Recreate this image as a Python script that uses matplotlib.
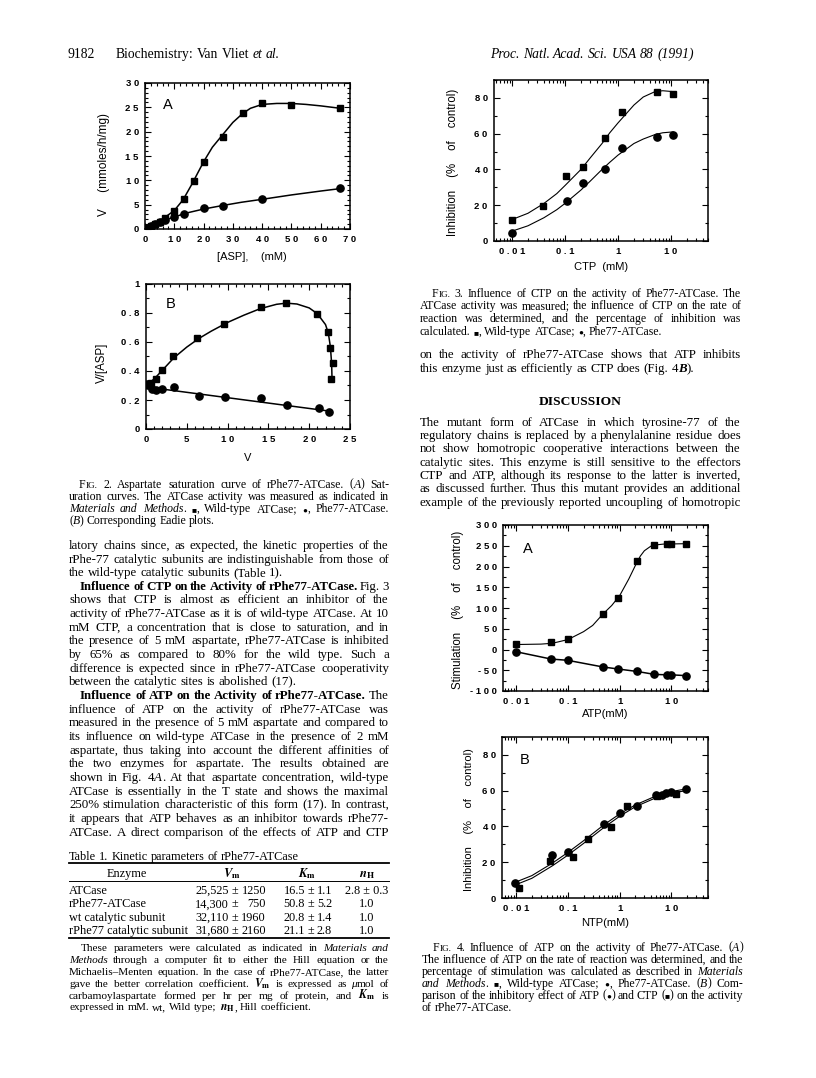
import re
import matplotlib
matplotlib.use("Agg")
import matplotlib.pyplot as plt
from matplotlib.ticker import MultipleLocator, LogLocator, FuncFormatter, NullFormatter

plt.rcParams["font.family"] = ["Liberation Sans", "DejaVu Sans"]
plt.rcParams["font.weight"] = "bold"
plt.rcParams["mathtext.fontset"] = "stix"

SERIF = ["Liberation Serif", "DejaVu Serif"]
W, H = 816, 1078

# ---------------- data ----------------
# Fig. 2A  saturation curves
asp_wt = [1, 2, 3.3, 5, 6.7, 10, 13.3, 16.7, 20, 26.7, 33.3, 40, 50, 66.7]
v_wt = [0.3, 0.7, 1.1, 1.5, 2.3, 3.6, 6.1, 9.9, 13.8, 18.9, 23.8, 25.8, 25.4, 24.8]
asp_mut = [1, 2, 3.3, 5, 6.7, 10, 13.3, 20, 26.7, 40, 66.7]
v_mut = [0.3, 0.6, 1.0, 1.4, 1.9, 2.4, 3.1, 4.3, 4.7, 6.1, 8.4]
fit2a_wt_x = [0, 5, 10, 13, 16, 20, 23, 26.7, 30, 33.3, 36, 40, 45, 50, 55, 60, 66.7]
fit2a_wt_y = [0, 1.6, 3.8, 6.0, 9.2, 13.8, 16.8, 19.5, 21.9, 23.7, 24.8, 25.6, 25.8, 25.8, 25.6, 25.3, 24.8]
fit2a_mut_x = [0, 2, 5, 10, 15, 20, 26.7, 33, 40, 50, 60, 66.7]
fit2a_mut_y = [0, 0.7, 1.4, 2.5, 3.4, 4.1, 4.85, 5.5, 6.1, 7.0, 7.8, 8.3]

# Fig. 2B  Eadie plots
ev_wt = [0.15, 0.6, 1.2, 1.9, 3.35, 6.3, 9.6, 14.1, 17.2, 21.0, 22.3, 22.5, 22.95, 22.7]
er_wt = [0.30, 0.32, 0.343, 0.407, 0.503, 0.63, 0.722, 0.843, 0.867, 0.79, 0.667, 0.559, 0.457, 0.343]
ev_mut = [0.1, 0.3, 0.7, 1.2, 2.0, 3.4, 6.5, 9.7, 14.1, 17.3, 21.2, 22.4]
er_mut = [0.31, 0.30, 0.274, 0.269, 0.274, 0.292, 0.228, 0.219, 0.212, 0.166, 0.147, 0.119]
fit2b_wt_x = [0, 1, 2, 3.4, 5, 6.5, 8, 10, 12, 14, 16, 17.2, 18.5, 20, 21, 22, 22.35, 22.6, 22.75, 22.8]
fit2b_wt_y = [0.30, 0.345, 0.405, 0.49, 0.565, 0.625, 0.675, 0.735, 0.785, 0.83, 0.86, 0.868,
              0.862, 0.835, 0.795, 0.72, 0.66, 0.565, 0.45, 0.34]
fit2b_mut_x = [0, 22.4]
fit2b_mut_y = [0.29, 0.124]

# Fig. 3  CTP inhibition
ctp_wt = [0.01, 0.039, 0.106, 0.22, 0.58, 1.18, 5.4, 10.7]
inh_wt = [12, 19.7, 36.4, 41.6, 57.3, 72.2, 83.3, 82.4]
ctp_mut = [0.01, 0.108, 0.22, 0.58, 1.18, 5.5, 11]
inh_mut = [4.5, 22.4, 32.7, 40.1, 51.8, 58.3, 59.2]
fit3_x = [0.01, 0.02, 0.04, 0.07, 0.1, 0.2, 0.3, 0.5, 0.7, 1, 2, 3, 5, 7, 11]
fit3_wt = [12, 15.5, 21, 26.5, 31, 40, 46.5, 54.5, 60.5, 66, 76, 80.5, 83.5, 84, 83.5]
fit3_mut = [5.5, 8.5, 13, 17.5, 21, 28.5, 33.5, 40, 44, 48, 54.5, 57, 59.5, 60.5, 61]

# Fig. 4A  ATP stimulation
atp = [0.01, 0.047, 0.098, 0.47, 0.93, 2.2, 4.7, 8.2, 9.8, 19.5]
stim_wt = [12.8, 16.9, 24.8, 85, 125, 214, 251, 254, 254, 254]
stim_mut = [-5.5, -23, -26, -42, -47, -53, -60, -61, -61, -63]
fit4a_x = [0.01, 0.03, 0.05, 0.1, 0.2, 0.3, 0.47, 0.7, 1, 1.5, 2, 2.5, 3, 4, 5, 7, 19.5]
fit4a_y = [12, 13, 15, 24, 43, 58, 85, 106, 130, 170, 202, 225, 238, 249, 252, 254, 255]

# Fig. 4B  ATP vs CTP inhibition of rPhe77
ntp_atp = [0.0095, 0.05, 0.098, 0.5, 1.0, 2.2, 5.0, 6.5, 8.0, 10, 19.5]
inh_atp = [8.2, 23.9, 25.7, 41.5, 47.6, 51.5, 57.5, 57.8, 58.5, 59.5, 61]
ntp_ctp = [0.0115, 0.045, 0.124, 0.245, 0.69, 1.37, 5.2, 12.5]
inh_ctp = [5.4, 20.6, 23, 32.8, 39.6, 51.3, 57, 58]
fit4b_x = [0.009, 0.02, 0.05, 0.1, 0.2, 0.5, 1, 2, 5, 10, 19.5]
fit4b_atp = [8.5, 12.5, 19.5, 25.5, 32, 41, 47, 52, 57, 59.5, 61]
fit4b_ctp = [7, 11, 18, 24, 30.5, 39.5, 45.7, 51, 56, 58.7, 60]

# Table 1
tab_enzyme = ["ATCase", "rPhe77-ATCase", "wt catalytic subunit", "rPhe77 catalytic subunit"]
tab_vm = [("25,525", "1250"), ("14,300", "750"), ("32,110", "1960"), ("31,680", "2160")]
tab_km = [("16.5", "1.1"), ("50.8", "5.2"), ("20.8", "1.4"), ("21.1", "2.8")]
tab_nh = ["2.8 ± 0.3", "1.0", "1.0", "1.0"]

# ---------------- text ----------------
cap2 = [
    "F<sc>ig.</sc> 2.  Aspartate saturation curve of rPhe77-ATCase. (<i>A</i>) Sat-",
    "uration curves. The ATCase activity was measured as indicated in",
    "<i>Materials and Methods</i>. <s>■</s>, Wild-type ATCase; <s>●</s>, Phe77-ATCase.",
    "(<i>B</i>) Corresponding Eadie plots.",
]
body_left = [
    "latory chains since, as expected, the kinetic properties of the",
    "rPhe-77 catalytic subunits are indistinguishable from those of",
    "the wild-type catalytic subunits (Table 1).",
    "<b>Influence of CTP on the Activity of rPhe77-ATCase.</b> Fig. 3",
    "shows that CTP is almost as efficient an inhibitor of the",
    "activity of rPhe77-ATCase as it is of wild-type ATCase. At 10",
    "mM CTP, a concentration that is close to saturation, and in",
    "the presence of 5 mM aspartate, rPhe77-ATCase is inhibited",
    "by 65% as compared to 80% for the wild type. Such a",
    "difference is expected since in rPhe77-ATCase cooperativity",
    "between the catalytic sites is abolished (17).",
    "<b>Influence of ATP on the Activity of rPhe77-ATCase.</b> The",
    "influence of ATP on the activity of rPhe77-ATCase was",
    "measured in the presence of 5 mM aspartate and compared to",
    "its influence on wild-type ATCase in the presence of 2 mM",
    "aspartate, thus taking into account the different affinities of",
    "the two enzymes for aspartate. The results obtained are",
    "shown in Fig. 4<i>A</i>. At that aspartate concentration, wild-type",
    "ATCase is essentially in the T state and shows the maximal",
    "250% stimulation characteristic of this form (17). In contrast,",
    "it appears that ATP behaves as an inhibitor towards rPhe77-",
    "ATCase. A direct comparison of the effects of ATP and CTP",
]
foot = [
    "These parameters were calculated as indicated in <i>Materials and</i>",
    "<i>Methods</i> through a computer fit to either the Hill equation or the",
    "Michaelis–Menten equation. In the case of rPhe77-ATCase, the latter",
    r"gave the better correlation coefficient. <m>$V_\mathrm{m}$</m> is expressed as <i>μ</i>mol of",
    r"carbamoylaspartate formed per hr per mg of protein, and <m>$K_\mathrm{m}$</m> is",
    r"expressed in mM. wt, Wild type; <m>$n_\mathrm{H}$</m>, Hill coefficient.",
]
cap3 = [
    "F<sc>ig.</sc> 3.  Influence of CTP on the activity of Phe77-ATCase. The",
    "ATCase activity was measured; the influence of CTP on the rate of",
    "reaction was determined, and the percentage of inhibition was",
    "calculated. <s>■</s>, Wild-type ATCase; <s>●</s>, Phe77-ATCase.",
]
body_right = [
    "on the activity of rPhe77-ATCase shows that ATP inhibits",
    "this enzyme just as efficiently as CTP does (Fig. 4<bi>B</bi>).",
]
discussion = [
    "The mutant form of ATCase in which tyrosine-77 of the",
    "regulatory chains is replaced by a phenylalanine residue does",
    "not show homotropic cooperative interactions between the",
    "catalytic sites. This enzyme is still sensitive to the effectors",
    "CTP and ATP, although its response to the latter is inverted,",
    "as discussed further. Thus this mutant provides an additional",
    "example of the previously reported uncoupling of homotropic",
]
cap4 = [
    "F<sc>ig.</sc> 4.  Influence of ATP on the activity of Phe77-ATCase. (<i>A</i>)",
    "The influence of ATP on the rate of reaction was determined, and the",
    "percentage of stimulation was calculated as described in <i>Materials</i>",
    "<i>and Methods</i>. <s>■</s>, Wild-type ATCase; <s>●</s>, Phe77-ATCase. (<i>B</i>) Com-",
    "parison of the inhibitory effect of ATP (<s>●</s>) and CTP (<s>■</s>) on the activity",
    "of rPhe77-ATCase.",
]

fig = plt.figure(figsize=(W / 100, H / 100), dpi=100)
bg = fig.add_axes([0, 0, 1, 1])
bg.set_xlim(0, W)
bg.set_ylim(H, 0)
bg.axis("off")
renderer = fig.canvas.get_renderer()

STY = {"r": ("normal", "normal", 1.0), "i": ("italic", "normal", 1.0),
       "b": ("normal", "bold", 1.0), "bi": ("italic", "bold", 1.0),
       "sc": ("normal", "normal", 0.78), "s": ("normal", "normal", 0.7),
       "m": ("normal", "normal", 1.05)}


def parse(line):
    words = [[]]
    style = "r"
    for tok in re.split(r"(</?[a-z]+>)", line):
        if not tok:
            continue
        if tok.startswith("</"):
            style = "r"
            continue
        if tok.startswith("<"):
            style = tok[1:-1]
            continue
        for k, part in enumerate(tok.split(" ")):
            if k > 0:
                words.append([])
            if part:
                words[-1].append((part, style))
    return [w for w in words if w]


def make_words(line, base, size):
    objs = []
    for w in parse(line):
        pieces = []
        for txt, st in w:
            fs, fw, k = STY[st]
            if st == "sc":
                txt = txt.upper()
            t = bg.text(0, base, txt, fontsize=size * k, fontstyle=fs, fontweight=fw,
                        family=SERIF, va="baseline", ha="left")
            pieces.append((t, t.get_window_extent(renderer).width))
        objs.append(pieces)
    return objs


def put_line(line, x0, x1, y, size, justify=True):
    px = size * 100 / 72
    base = y + 0.3 * px
    objs = make_words(line, base, size)
    widths = [sum(p[1] for p in ps) for ps in objs]
    n = len(objs)
    min_gap = 0.18 * px
    if n > 1 and sum(widths) + (n - 1) * min_gap > x1 - x0:
        # too long for the column: shrink this line a little
        for ps in objs:
            for t, _ in ps:
                t.remove()
        size *= (x1 - x0 - (n - 1) * min_gap) / sum(widths)
        objs = make_words(line, base, size)
        widths = [sum(p[1] for p in ps) for ps in objs]
    gap = 0.25 * px
    if justify and n > 1:
        gap = (x1 - x0 - sum(widths)) / (n - 1)
    x = x0
    for ps in objs:
        for t, pw in ps:
            t.set_x(x)
            x += pw
        x += gap


def put_block(lines, x0, x1, y0, dy, size, indent=0, indent_rows=(0,), last_rows=()):
    for k, line in enumerate(lines):
        xs = x0 + (indent if k in indent_rows else 0)
        put_line(line, xs, x1, y0 + k * dy, size, justify=(k not in last_rows))


# running heads
put_line("9182", 67, 100, 54, 9.8, justify=False)
put_line("Biochemistry: Van Vliet <i>et al.</i>", 116, 300, 54, 9.8, justify=False)
put_line("<i>Proc. Natl. Acad. Sci. USA 88 (1991)</i>", 490, 700, 54, 9.8, justify=False)

put_block(cap2, 69, 389, 484, 12.3, 8.5, indent=10, last_rows=(3,))
put_block(body_left, 69, 389, 545, 13.65, 9.3, indent=11, indent_rows=(3, 11), last_rows=(2, 10))

# table
put_line("Table 1.  Kinetic parameters of rPhe77-ATCase", 69, 389, 856, 8.8, justify=False)
bg.plot([69, 389], [863, 863], color="black", lw=1.3)
bg.plot([69, 389], [881, 881], color="black", lw=0.7)
bg.plot([69, 389], [938, 938], color="black", lw=1.3)
bg.text(127, 877, "Enzyme", family=SERIF, fontweight="normal", fontsize=8.8, ha="center", va="baseline")
bg.text(232, 877, r"$V_\mathrm{m}$", fontsize=9.2, ha="center", va="baseline")
bg.text(307, 877, r"$K_\mathrm{m}$", fontsize=9.2, ha="center", va="baseline")
bg.text(367, 877, r"$n_\mathrm{H}$", fontsize=9.2, ha="center", va="baseline")
for k in range(len(tab_enzyme)):
    yb = 894 + k * 13.4
    kw = dict(family=SERIF, fontweight="normal", fontsize=8.8, va="baseline")
    bg.text(69, yb, tab_enzyme[k], ha="left", **kw)
    bg.text(229, yb, tab_vm[k][0], ha="right", **kw)
    bg.text(235, yb, "±", ha="center", **kw)
    bg.text(266, yb, tab_vm[k][1], ha="right", **kw)
    bg.text(305, yb, tab_km[k][0], ha="right", **kw)
    bg.text(310.5, yb, "±", ha="center", **kw)
    bg.text(332, yb, tab_km[k][1], ha="right", **kw)
    bg.text(367, yb, tab_nh[k], ha="center", **kw)
put_block(foot, 69, 389, 948, 11.8, 8.1, indent=12, last_rows=(5,))

put_block(cap3, 420, 741, 293, 12.7, 8.5, indent=12, last_rows=(3,))
put_block(body_right, 420, 741, 354, 14, 9.3, indent=0, indent_rows=(), last_rows=(1,))
bg.text(580, 405, "DISCUSSION", family=SERIF, fontweight="bold", fontsize=9.7, ha="center", va="baseline")
put_block(discussion, 420, 741, 422, 13.3, 9.3, indent=0, indent_rows=())
put_block(cap4, 422, 743, 947, 12.0, 8.5, indent=11, last_rows=(5,))


# ---------------- charts ----------------
def px_axes(l, t, r, b):
    return fig.add_axes([l / W, 1 - b / H, (r - l) / W, (b - t) / H])


spaced = FuncFormatter(lambda v, pos: " ".join("%g" % v))


def style(ax, logx=False):
    ax.tick_params(which="both", direction="in", top=True, right=True, width=0.8,
                   labelsize=6.8, colors="black")
    ax.tick_params(which="major", length=4)
    ax.tick_params(which="minor", length=2.2)
    ax.tick_params(axis="x", pad=4.5)
    ax.tick_params(axis="y", pad=4.5)
    for s in ax.spines.values():
        s.set_linewidth(1.1)
    if logx:
        ax.set_xscale("log")
        ax.xaxis.set_major_locator(LogLocator(base=10))
        ax.xaxis.set_minor_locator(LogLocator(base=10, subs=range(2, 10)))
        ax.xaxis.set_minor_formatter(NullFormatter())
    ax.xaxis.set_major_formatter(spaced)
    ax.yaxis.set_major_formatter(spaced)


mk_s = dict(marker="s", ms=5, color="black", lw=0, zorder=3)
mk_o = dict(marker="o", ms=5.2, color="black", lw=0, zorder=3)

# Fig 2A
ax = px_axes(145, 83, 350, 229)
style(ax)
ax.plot(fit2a_wt_x, fit2a_wt_y, color="black", lw=1.1)
ax.plot(fit2a_mut_x, fit2a_mut_y, color="black", lw=1.1)
ax.plot(asp_wt, v_wt, **mk_s)
ax.plot(asp_mut, v_mut, **mk_o)
ax.set_xlim(0, 70)
ax.set_ylim(0, 30)
ax.xaxis.set_major_locator(MultipleLocator(10))
ax.xaxis.set_minor_locator(MultipleLocator(2))
ax.yaxis.set_major_locator(MultipleLocator(5))
ax.yaxis.set_minor_locator(MultipleLocator(1))
ax.set_xlabel("[ASP],    (mM)", fontsize=8, va="center")
ax.xaxis.set_label_coords(0.52, -0.19)
ax.set_ylabel("V     (mmoles/h/mg)", fontsize=8.5, va="center")
ax.yaxis.set_label_coords(-0.2, 0.445)
ax.text(0.11, 0.85, "A", transform=ax.transAxes, fontsize=10.5, fontweight="normal",
        ha="center", va="center")

# Fig 2B
ax = px_axes(146, 284, 350, 429)
style(ax)
ax.plot(fit2b_wt_x, fit2b_wt_y, color="black", lw=1.1)
ax.plot(fit2b_mut_x, fit2b_mut_y, color="black", lw=1.1)
ax.plot(ev_wt, er_wt, **mk_s)
ax.plot(ev_mut, er_mut, **mk_o)
ax.set_xlim(0, 25)
ax.set_ylim(0, 1)
ax.xaxis.set_major_locator(MultipleLocator(5))
ax.xaxis.set_minor_locator(MultipleLocator(1))
ax.yaxis.set_major_locator(MultipleLocator(0.2))
ax.yaxis.set_minor_locator(MultipleLocator(0.1))
ax.set_xlabel("V", fontsize=8, va="center")
ax.xaxis.set_label_coords(0.5, -0.2)
ax.set_ylabel("V/[ASP]", fontsize=8.3, va="center")
ax.yaxis.set_label_coords(-0.216, 0.455)
ax.text(0.123, 0.862, "B", transform=ax.transAxes, fontsize=10.5, fontweight="normal",
        ha="center", va="center")

# Fig 3
ax = px_axes(494, 80, 708, 241)
style(ax, logx=True)
ax.plot(fit3_x, fit3_wt, color="black", lw=0.8)
ax.plot(fit3_x, fit3_mut, color="black", lw=0.8)
ax.plot(ctp_wt, inh_wt, **mk_s)
ax.plot(ctp_mut, inh_mut, **mk_o)
ax.set_xlim(0.00457, 50)
ax.set_ylim(0, 90)
ax.yaxis.set_major_locator(MultipleLocator(20))
ax.yaxis.set_minor_locator(MultipleLocator(10))
ax.set_xlabel("CTP  (mM)", fontsize=8, va="center")
ax.xaxis.set_label_coords(0.5, -0.16)
ax.set_ylabel("Inhibition    (%    of    control)", fontsize=8.3, va="center")
ax.yaxis.set_label_coords(-0.19, 0.49)

# Fig 4A
ax = px_axes(503, 525, 708, 691)
style(ax, logx=True)
ax.plot(fit4a_x, fit4a_y, color="black", lw=0.8)
ax.plot(atp, stim_mut, color="black", lw=1.1)
ax.plot(atp, stim_wt, **mk_s)
ax.plot(atp, stim_mut, **mk_o)
ax.set_xlim(0.00553, 51)
ax.set_ylim(-100, 300)
ax.yaxis.set_major_locator(MultipleLocator(50))
ax.yaxis.set_minor_locator(MultipleLocator(25))
ax.set_xlabel("ATP(mM)", fontsize=8, va="center")
ax.xaxis.set_label_coords(0.5, -0.14)
ax.set_ylabel("Stimulation    (%    of    control)", fontsize=8.3, va="center")
ax.yaxis.set_label_coords(-0.22, 0.49)
ax.text(0.12, 0.855, "A", transform=ax.transAxes, fontsize=10.5, fontweight="normal",
        ha="center", va="center")

# Fig 4B
ax = px_axes(502, 737, 708, 898)
style(ax, logx=True)
ax.plot(fit4b_x, fit4b_atp, color="black", lw=0.8)
ax.plot(fit4b_x, fit4b_ctp, color="black", lw=0.8)
ax.plot(ntp_ctp, inh_ctp, **mk_s)
ax.plot(ntp_atp, inh_atp, **mk_o)
ax.set_xlim(0.0053, 51)
ax.set_ylim(0, 90)
ax.yaxis.set_major_locator(MultipleLocator(20))
ax.yaxis.set_minor_locator(MultipleLocator(10))
ax.set_xlabel("NTP(mM)", fontsize=8, va="center")
ax.xaxis.set_label_coords(0.5, -0.155)
ax.set_ylabel("Inhibition    (%    of    control)", fontsize=8.0, va="center")
ax.yaxis.set_label_coords(-0.16, 0.49)
ax.text(0.112, 0.857, "B", transform=ax.transAxes, fontsize=10.5, fontweight="normal",
        ha="center", va="center")

fig.savefig("out.png", dpi=100)
